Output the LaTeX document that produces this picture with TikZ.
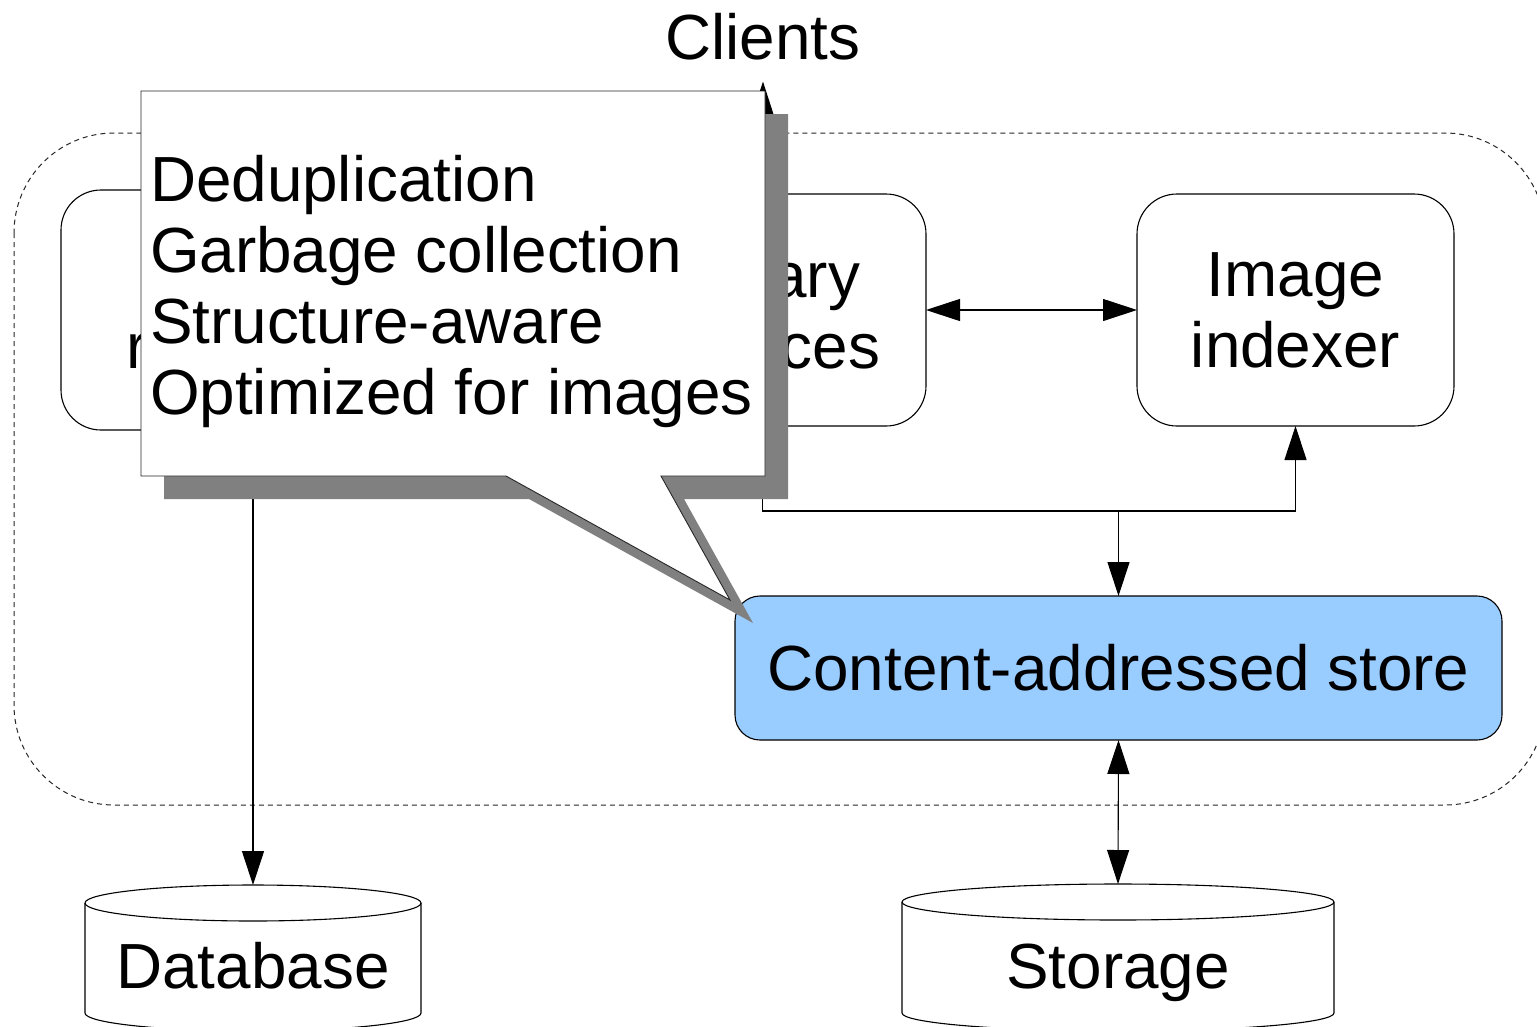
\documentclass[tikz,border=0pt]{standalone}
\usepackage{fontspec}
\setmainfont{Liberation Sans}
\usetikzlibrary{arrows.meta}
\definecolor{storeblue}{HTML}{99CCFF}
\definecolor{shadowgray}{HTML}{808080}
\begin{document}
\begin{tikzpicture}[x=1pt,y=-1pt,
  every node/.style={font=\fontsize{63.8}{71}\selectfont, inner sep=0pt, outer sep=0pt},
  box/.style={draw, line width=1.1pt, rounded corners=40pt, fill=white},
  tip/.tip={Triangle[length=34pt,width=22pt]},
  arr/.style={line width=1.1pt, -tip},
  darr/.style={line width=1.1pt, tip-tip},
  cyl/.style={draw, fill=white, line width=1.1pt},
]
\useasboundingbox (0,0) rectangle (1537,1026);
\fill[white] (0,0) rectangle (1537,1026);

% dashed group round the services
\draw[dash pattern=on 5pt off 4pt, line width=1pt, black!85, rounded corners=100pt]
  (14,133) rectangle (1545,805);

% service boxes
\node[box, minimum width=384pt, minimum height=240pt] (mgr) at (253,310) {};
\node[box, minimum width=327pt, minimum height=232pt] (lib) at (762.5,310) {};
\node[box, minimum width=317pt, minimum height=232pt, align=center] (idx) at (1295.5,310) {Image\\indexer};
\node[box, fill=storeblue, rounded corners=25pt, minimum width=767pt, minimum height=144pt] (store) at (1118.5,668) {Content-addressed store};

\node[anchor=base west] (mgrtext) at (126,368) {r};
\node[anchor=base east] (libtop) at (860,297) {ary};
\node[anchor=base east] (libbot) at (880,368) {ces};

\node[anchor=base, inner ysep=22pt] (clients) at (763,59) {Clients};

% storage cylinders
\draw[cyl] (85,903) -- (85,1013) arc[start angle=180,end angle=360,x radius=168pt,y radius=18pt]
  -- (421,903) arc[start angle=0,end angle=180,x radius=168pt,y radius=18pt] -- cycle;
\draw[line width=1.1pt] (85,903) arc[start angle=180,end angle=360,x radius=168pt,y radius=18pt];
\node (db) at (253,988) [anchor=base] {Database};
\coordinate (dbtop) at (253,885);

\draw[cyl] (902,902) -- (902,1013) arc[start angle=180,end angle=360,x radius=216pt,y radius=18pt]
  -- (1334,902) arc[start angle=0,end angle=180,x radius=216pt,y radius=18pt] -- cycle;
\draw[line width=1.1pt] (902,902) arc[start angle=180,end angle=360,x radius=216pt,y radius=18pt];
\node (st) at (1118,988) [anchor=base] {Storage};
\coordinate (sttop) at (1118,884);

% connectors
\coordinate (j) at (762.5,511);
\draw[darr] (lib.east) -- (idx.west);
\draw[arr] (lib.north) -- (clients.south);
\draw[arr] (lib.south) -- (j) -| (idx.south);
\draw[arr] (store.north |- j) -- (store.north);
\draw[darr] (store.south) -- (sttop);
\draw[arr] (mgr.south) -- (dbtop);

% callout with its drop shadow
\fill[shadowgray] (164,114) -- (788,114) -- (788,499) -- (684,499) -- (753,623)
  -- (529,499) -- (164,499) -- cycle;
\draw[fill=white, draw=black!85, line width=0.9pt] (141,91) -- (765,91) -- (765,476) -- (661,476)
  -- (730,600) -- (506,476) -- (141,476) -- cycle;
\node[anchor=north west, align=left] (notes) at (150,155)
  {Deduplication\\Garbage collection\\Structure-aware\\Optimized for images};
\end{tikzpicture}
\end{document}
